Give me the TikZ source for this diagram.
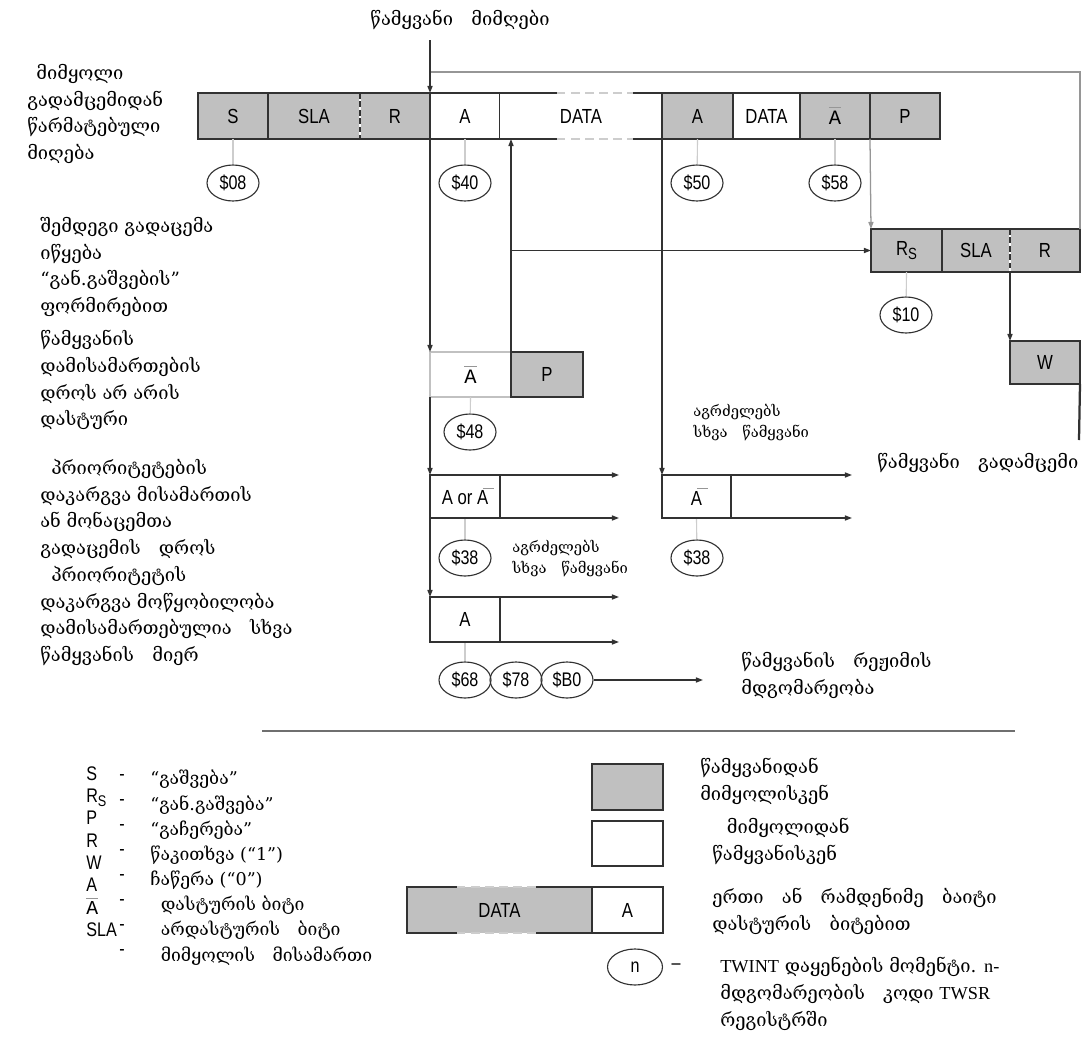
\documentclass[tikz,border=0pt]{standalone}
\usepackage{fontspec}
\usepackage{tikz}
\usetikzlibrary{shapes.geometric, arrows.meta}
\usepackage{xcolor}

\setmainfont{DejaVu Serif}
\newfontfamily\labfont[FakeStretch=0.82]{Liberation Sans}
\newfontfamily\ttafont{Liberation Mono}
\newfontfamily\timesfont{Liberation Serif}

\definecolor{cellgray}{RGB}{192,192,192}
\definecolor{edge}{RGB}{50,50,50}
\definecolor{loopgray}{RGB}{150,150,150}
\definecolor{tickgray}{RGB}{205,205,205}

% not-acknowledge bit: A with a bar
\newcommand{\nackA}{\leavevmode\rlap{\textcolor{loopgray}{\rule[0.8em]{0.6em}{0.5pt}}}{\ttafont A}}
\newcommand{\barA}{\leavevmode\rlap{\hspace{0.3em}\textcolor{loopgray}{\rule[0.8em]{0.55em}{0.5pt}}}A}
% repeated start, R with a lowered S
\newcommand{\Rs}[1]{R\raisebox{-0.35ex}{\fontsize{#1}{#1}\selectfont S}}

\begin{document}
\begin{tikzpicture}[x=0.025cm, y=-0.025cm,
    wd/.style={minimum width=#1*0.025cm},
    ht/.style={minimum height=#1*0.025cm},
    cell/.style={draw=edge, line width=1pt, inner sep=0pt, outer sep=0pt,
        anchor=north west, ht=46, font=\labfont\fontsize{14.5}{14.5}\selectfont},
    mcell/.style={cell, fill=cellgray},
    scell/.style={cell, fill=white},
    code/.style={ellipse, draw=edge, line width=0.8pt, inner sep=0pt,
        minimum width=52*0.025cm, minimum height=36*0.025cm,
        font=\labfont\fontsize{14}{14}\selectfont},
    tick/.style={draw=tickgray, line width=0.8pt},
    flow/.style={draw=edge, line width=0.9pt, -{Triangle[length=5pt, width=3.6pt]}},
    note/.style={align=left, inner sep=0pt, anchor=north west,
        font=\fontsize{13}{19}\selectfont},
    small note/.style={note, font=\fontsize{10.5}{15}\selectfont}
]
    \fill[white] (0,0) rectangle (1087,1040);
    \useasboundingbox (0,0) rectangle (1087,1040);

    % notes on the left
    \node[note, anchor=center] (title) at (460,20) {წამყვანი\quad მიმღები};
    \node[note] (n1) at (27,64) {\hspace{0.5em}მიმყოლი\\გადამცემიდან\\წარმატებული\\მიღება};
    \node[note] (n2) at (40,217) {შემდეგი გადაცემა\\იწყება\\“გან.გაშვების”\\ფორმირებით};
    \node[note] (n3) at (40,330) {წამყვანის\\დამისამართების\\დროს არ არის\\დასტური};
    \node[note] (n4) at (40,459) {\hspace{0.6em}პრიორიტეტების\\დაკარგვა მისამართის\\ან მონაცემთა\\გადაცემის\quad დროს};
    \node[note] (n5) at (40,566) {\hspace{0.6em}პრიორიტეტის\\დაკარგვა მოწყობილობა\\დამისამართებულია\quad სხვა\\წამყვანის\quad მიერ};

    % first frame
    \node[mcell, wd=70] (s) at (198,93) {S};
    \node[mcell, wd=92] (sla) at (268,93) {SLA};
    \node[mcell, wd=70] (r) at (360,93) {R};
    \node[scell, wd=70] (a1) at (430,93) {A};
    \node[scell, draw=none, wd=162] (d1) at (500,93) {DATA};
    \node[mcell, wd=71] (a2) at (662,93) {A};
    \node[scell, wd=67] (d2) at (733,93) {DATA};
    \node[mcell, wd=70] (na1) at (800,93) {\nackA};
    \node[mcell, wd=70] (p1) at (870,93) {P};
    \draw[white, line width=1pt] (sla.north east) -- (sla.south east);
    \draw[edge, line width=1pt, dash pattern=on 4pt off 2pt] (sla.north east) -- (sla.south east);
    \draw[edge, line width=1pt] (d1.north west) -- ++(57,0) (d1.north east) -- ++(-29,0)
        (d1.south west) -- ++(57,0) (d1.south east) -- ++(-29,0);
    \draw[tickgray, line width=1pt, dash pattern=on 6pt off 4pt] (d1.north west) ++(57,0) -- ++(76,0)
        (d1.south west) ++(57,0) -- ++(76,0);

    % repeated start
    \node[mcell, wd=71, ht=43] (rs) at (871,229) {\Rs{11.5}};
    \node[mcell, wd=68, ht=43] (sla2) at (942,229) {SLA};
    \node[mcell, wd=70, ht=43] (r2) at (1010,229) {R};
    \draw[white, line width=1pt] (sla2.north east) -- (sla2.south east);
    \draw[edge, line width=1pt, dash pattern=on 4pt off 2pt] (sla2.north east) -- (sla2.south east);
    \node[mcell, wd=70, ht=43] (w) at (1010,341) {W};

    % no acknowledge / arbitration lost
    \node[scell, draw=edge!30, wd=81, ht=45] (ap) at (430,352) {\nackA};
    \node[mcell, wd=72, ht=45] (pp) at (511,352) {P};
    \node[scell, wd=70, ht=43] (aor) at (430,475) {A or \barA};
    \node[scell, wd=69, ht=43] (aright) at (662,475) {\barA};
    \node[scell, wd=70, ht=45] (a3) at (430,597) {A};

    % status codes
    \node[code] (c08) at (233,183) {\$08};
    \node[code] (c40) at (465,183) {\$40};
    \node[code] (c50) at (697,183) {\$50};
    \node[code] (c58) at (835,183) {\$58};
    \node[code] (c10) at (906,315) {\$10};
    \node[code] (c48) at (470,432) {\$48};
    \node[code] (c38a) at (465,558) {\$38};
    \node[code] (c38b) at (697,558) {\$38};
    \node[code] (c68) at (465,680) {\$68};
    \node[code] (c78) at (516,680) {\$78};
    \node[code] (cb0) at (567,680) {\$B0};
    \draw[tick] (s.south) -- (c08);
    \draw[tick] (a1.south) -- (c40);
    \draw[tick] (a2.south) -- (c50);
    \draw[tick] (na1.south) -- (c58);
    \draw[tick] (rs.south) -- (c10);
    \draw[tick] (ap.south) -- (c48);
    \draw[tick] (aor.south) -- (c38a);
    \draw[tick] (aright.south) -- (c38b);
    \draw[tick] (a3.south) -- (c68);

    % flow lines
    \coordinate (top) at (430,40);
    \coordinate (loop) at (430,72);
    \coordinate (wtail) at (1079,440);
    \coordinate (mode) at (703,680);
    \draw[loopgray, line width=1.2pt] (loop) -| (r2.north east);
    \draw[flow] (top) -- (a1.north west);
    \draw[flow] (a1.south west) -- (ap.north west);
    \draw[flow] (ap.south west) -- (aor.north west);
    \draw[flow] (aor.south west) -- (a3.north west);
    \draw[flow] (pp.north west) -- (pp.north west |- d1.south);
    \draw[flow] (pp.north west |- rs.west) -- (rs.west);
    \draw[flow] (a2.south west) -- (aright.north west);
    \draw[flow, draw=loopgray] (p1.south west) -- (rs.north west);
    \draw[flow] (sla2.south east) -- (w.north west);
    \draw[edge, line width=1.6pt] (w.south east) -- (wtail);
    \draw[flow] (aor.north west) -- ++(189,0);
    \draw[flow] (aor.south west) -- ++(189,0);
    \draw[flow] (aright.north west) -- ++(190,0);
    \draw[flow] (aright.south west) -- ++(190,0);
    \draw[flow] (a3.north west) -- ++(189,0);
    \draw[flow] (a3.south west) -- ++(189,0);
    \draw[flow] (cb0.east) -- (mode);

    \node[small note] (cont1) at (693,404) {აგრძელებს\\სხვა\quad წამყვანი};
    \node[small note] (cont2) at (512,540) {აგრძელებს\\სხვა\quad წამყვანი};
    \node[note, anchor=west] (sender) at (877,463) {წამყვანი\quad გადამცემი};
    \node[note] (modetext) at (741,652) {წამყვანის\quad რეჟიმის\\მდგომარეობა};

    % legend
    \draw[edge!70, line width=1pt] (262,731) -- (1015,731);
    \node[inner sep=0pt, align=left, anchor=north west,
        font=\labfont\fontsize{14}{15.9}\selectfont] (letters) at (86,766)
        {S\\\Rs{11}\\P\\R\\W\\A\\\nackA\\SLA};
    \node[inner sep=0pt, align=left, anchor=north west,
        font=\labfont\fontsize{14}{17.8}\selectfont] (dashes) at (119,774)
        {-\\-\\-\\-\\-\\-\\-\\-};
    \node[note, font=\fontsize{12.5}{17.9}\selectfont] (meaning) at (150,770)
        {“გაშვება”\\“გან.გაშვება”\\“გაჩერება”\\წაკითხვა (“1”)\\ჩაწერა (“0”)\\
        \hspace{0.6em}დასტურის ბიტი\\\hspace{0.6em}არდასტურის\quad ბიტი\\\hspace{0.6em}მიმყოლის\quad მისამართი};

    \node[mcell, wd=71] (keym) at (592,764) {};
    \node[scell, wd=71, ht=45] (keys) at (592,821) {};
    \node[mcell, draw=none, wd=185] (keyd) at (407,887) {DATA};
    \node[scell, wd=71] (keya) at (592,887) {A};
    \draw[edge, line width=1pt] (keyd.north west) ++(50,0) -- (keyd.north west) -- (keyd.south west) -- ++(50,0)
        (keyd.north east) -- ++(-56,0) (keyd.south east) -- ++(-56,0);
    \draw[tickgray, line width=1pt, dash pattern=on 6pt off 4pt] (keyd.north west) ++(50,0) -- ++(79,0)
        (keyd.south west) ++(50,0) -- ++(79,0);
    \node[code, wd=55] (keyn) at (635,967) {n};
    \node[font=\labfont\fontsize{14}{14}\selectfont] (keydash) at (676,967) {–};

    \node[note] (km) at (700,758) {წამყვანიდან\\მიმყოლისკენ};
    \node[note] (ks) at (712,818) {\hspace{0.8em}მიმყოლიდან\\წამყვანისკენ};
    \node[note] (kd) at (712,888) {ერთი\quad ან\quad რამდენიმე\quad ბაიტი\\დასტურის\quad ბიტებით};
    \node[note] (kn) at (720,957) {{\timesfont TWINT} დაყენების მომენტი. {\timesfont n-}\\მდგომარეობის\quad კოდი {\timesfont TWSR}\\რეგისტრში};
\end{tikzpicture}
\end{document}
